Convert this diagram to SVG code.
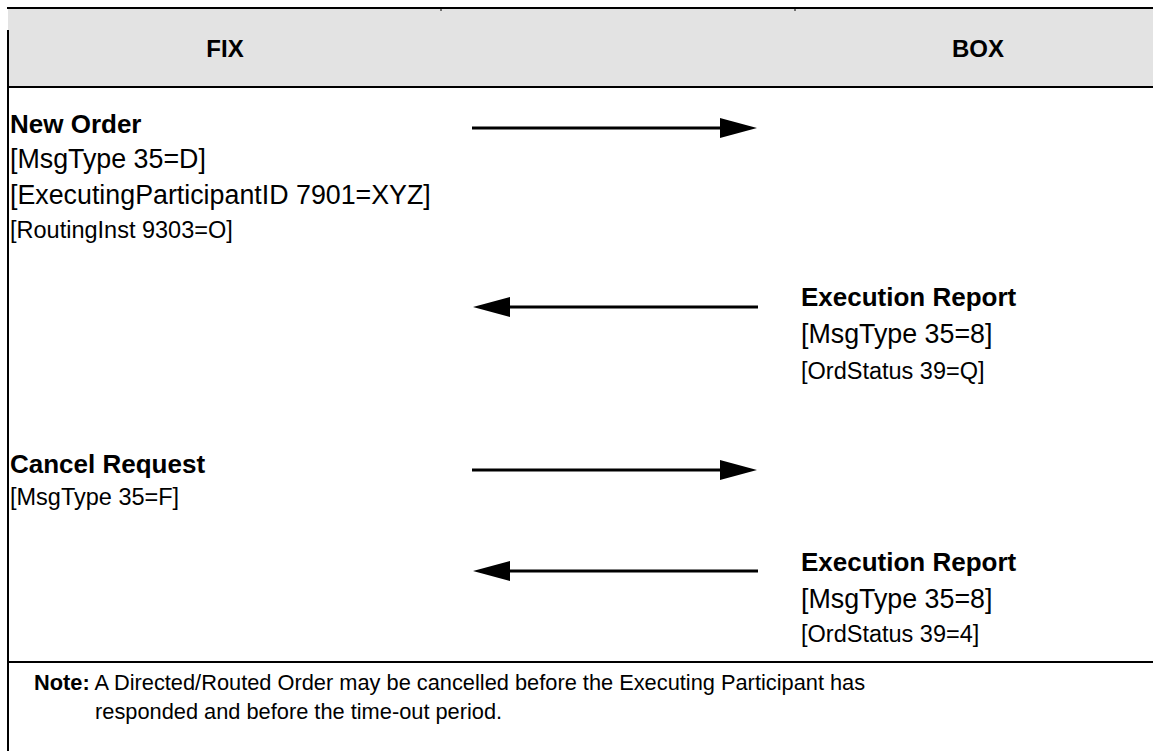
<svg xmlns="http://www.w3.org/2000/svg" width="1153" height="751" viewBox="0 0 1153 751">
<style>
.t{font-family:"Liberation Sans",Arial,sans-serif;fill:#000}
.b{font-weight:bold;font-size:26px}
.r{font-size:26.8px}
.s{font-size:23.5px}
.h{font-weight:bold;font-size:24px}
.n{font-size:21.8px}
.ln{stroke:#000;stroke-width:3;fill:none}
.bd{stroke:#000;stroke-width:2;fill:none}
</style>
<defs>
<marker id="ah" viewBox="0 0 37 20" refX="0" refY="10" markerWidth="37" markerHeight="20" markerUnits="userSpaceOnUse" orient="auto">
<path d="M0,0 L37,10 L0,20 Z" fill="#000"/>
</marker>
</defs>
<g id="frame">
<rect x="8" y="9" width="1145" height="77" fill="#e3e3e3"/>
<line class="bd" x1="7" y1="8" x2="1153" y2="8"/>
<line class="bd" x1="8" y1="30" x2="8" y2="751"/>
<line class="bd" x1="8" y1="87" x2="1153" y2="87"/>
<line class="bd" x1="8" y1="662" x2="1153" y2="662"/>
<line x1="441" y1="9" x2="441" y2="11" stroke="#000" stroke-width="1"/>
<line x1="795" y1="9" x2="795" y2="11" stroke="#000" stroke-width="1"/>
</g>
<g id="header-fix"><text class="t h" x="225" y="57" text-anchor="middle">FIX</text></g>
<g id="header-box"><text class="t h" x="978" y="57" text-anchor="middle">BOX</text></g>
<g id="new-order">
<text class="t b" x="10" y="133">New Order</text>
<text class="t r" x="10" y="168">[MsgType 35=D]</text>
<text class="t r" x="10" y="204">[ExecutingParticipantID 7901=XYZ]</text>
<text class="t s" x="10" y="238">[RoutingInst 9303=O]</text>
</g>
<g id="exec-report-1">
<text class="t b" x="801" y="306">Execution Report</text>
<text class="t r" x="801" y="343">[MsgType 35=8]</text>
<text class="t s" x="801" y="379">[OrdStatus 39=Q]</text>
</g>
<g id="cancel-request">
<text class="t b" x="10" y="473">Cancel Request</text>
<text class="t s" x="10" y="505">[MsgType 35=F]</text>
</g>
<g id="exec-report-2">
<text class="t b" x="801" y="571">Execution Report</text>
<text class="t r" x="801" y="608">[MsgType 35=8]</text>
<text class="t s" x="801" y="642">[OrdStatus 39=4]</text>
</g>
<g id="note">
<text class="t n" x="34" y="690"><tspan font-weight="bold">Note:</tspan> A Directed/Routed Order may be cancelled before the Executing Participant has</text>
<text class="t n" x="95" y="719">responded and before the time-out period.</text>
</g>
<g id="connectors">
<line class="ln" x1="472" y1="128" x2="720" y2="128" marker-end="url(#ah)"/>
<line class="ln" x1="758" y1="307" x2="510" y2="307" marker-end="url(#ah)"/>
<line class="ln" x1="472" y1="470" x2="720" y2="470" marker-end="url(#ah)"/>
<line class="ln" x1="758" y1="571" x2="510" y2="571" marker-end="url(#ah)"/>
</g>
</svg>
